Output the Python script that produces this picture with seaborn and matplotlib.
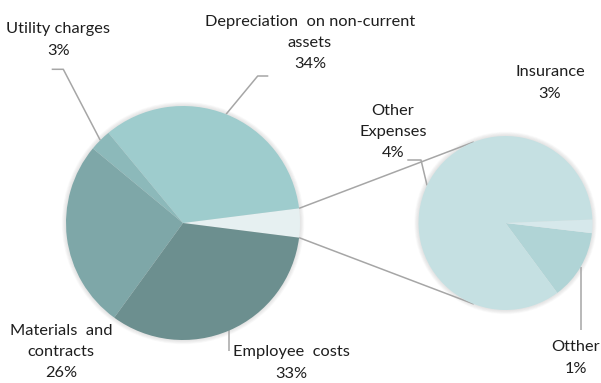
import numpy as np
import matplotlib
matplotlib.use("Agg")
import matplotlib.pyplot as plt
import seaborn as sns
from matplotlib.patches import Circle

# Main pie: expense categories (percent of total)
main_labels = ["Other\nExpenses", "Depreciation  on non-current\nassets", "Utility charges",
               "Materials  and\ncontracts", "Employee  costs"]
main_values = [4, 34, 3, 26, 33]
main_colors = ["#E6F0F1", "#9ECCCD", "#8CB9BA", "#7EA7A8", "#6C8F8F"]

# Secondary pie: breakdown of the "Other Expenses" slice (percent of total)
sub_labels = ["Otther", "", "Insurance"]
sub_values = [0.52, 0.10, 3.38]
sub_colors = ["#B0D4D6", "#D6E8EB", "#C5E0E2"]

sns.set_theme(style="white")
plt.rcParams["font.family"] = ["Lato", "DejaVu Sans"]

W, H = 601, 383
fig = plt.figure(figsize=(W / 100, H / 100), dpi=100)
ax = fig.add_axes([0, 0, 1, 1])


def P(x, y):
    """Convert top-left pixel coordinates into axes data coordinates."""
    return x, H - y


main_c = P(183, 223)
main_r = 117
sub_c = P(505.5, 223)
sub_r = 87

# soft glow behind both pies
for c, r in [(main_c, main_r), (sub_c, sub_r)]:
    for i in range(1, 7):
        ax.add_patch(Circle(c, r + i * 0.7, color="#808080", alpha=0.035, lw=0, zorder=0))

main_total = sum(main_values)
main_start = -main_values[0] / main_total * 360 / 2
wedges, _ = ax.pie(main_values, colors=main_colors, startangle=main_start, radius=main_r,
                   center=main_c, counterclock=True, wedgeprops=dict(linewidth=0),
                   frame=True)
for w in wedges:
    w.set_zorder(2)

sub_start = -53.5
sub_wedges, _ = ax.pie(sub_values, colors=sub_colors, startangle=sub_start, radius=sub_r,
                       center=sub_c, counterclock=True, wedgeprops=dict(linewidth=0),
                       frame=True)
for w in sub_wedges:
    w.set_zorder(2)

ax.set_xlim(0, W)
ax.set_ylim(0, H)
ax.set_aspect("equal")
ax.axis("off")

line_kw = dict(color="#A6A6A6", lw=1.1, zorder=1, solid_capstyle="butt")


def edge(center, r, ang):
    a = np.deg2rad(ang)
    return center[0] + r * np.cos(a), center[1] + r * np.sin(a)


def mid_angle(w):
    return (w.theta1 + w.theta2) / 2


# connector lines between the "Other" slice and the secondary pie
ow = wedges[0]
for a_main, a_sub in [(ow.theta2, 111.4), (ow.theta1, -111.4)]:
    x0, y0 = edge(main_c, main_r, a_main)
    x1, y1 = edge(sub_c, sub_r, a_sub)
    ax.plot([x0, x1], [y0, y1], **line_kw)

# leader lines
ux, uy = edge(main_c, main_r, mid_angle(wedges[2]))
ax.plot([P(51.7, 0)[0], P(63.3, 0)[0], ux], [P(0, 69.3)[1], P(0, 69.3)[1], uy], **line_kw)

dx, dy = edge(main_c, main_r, mid_angle(wedges[1]))
ax.plot([P(268.3, 0)[0], P(257.7, 0)[0], dx], [P(0, 76)[1], P(0, 76)[1], dy], **line_kw)

ex, ey = edge(main_c, main_r, mid_angle(wedges[4]))
ax.plot([ex, ex], [ey, P(0, 351)[1]], **line_kw)

ox, oy = edge(sub_c, sub_r, mid_angle(sub_wedges[2]))
ax.plot([P(407.3, 0)[0], P(421, 0)[0], ox], [P(0, 160)[1], P(0, 160)[1], oy], **line_kw)

tx, ty = edge(sub_c, sub_r, mid_angle(sub_wedges[0]))
ax.plot([tx, tx], [ty, P(0, 330)[1]], **line_kw)

# data labels
txt_kw = dict(ha="center", va="center", fontsize=11.8, color="#1E1E1E",
              linespacing=1.68, zorder=3)


def pct(v):
    return f"{round(v)}%"


label_pos = {
    0: (393, 132),
    1: (310, 43),
    2: (58.5, 40),
    3: (61, 352),
    4: (291, 363),
}
for i, (lab, val) in enumerate(zip(main_labels, main_values)):
    x, y = P(*label_pos[i])
    ax.text(x, y, f"{lab}\n{pct(val)}", **txt_kw)

sub_pos = {0: (576, 358), 2: (550, 83)}
for i, (lab, val) in enumerate(zip(sub_labels, sub_values)):
    if lab:
        x, y = P(*sub_pos[i])
        ax.text(x, y, f"{lab}\n{pct(val)}", **txt_kw)

fig.savefig("out.png", dpi=100)
